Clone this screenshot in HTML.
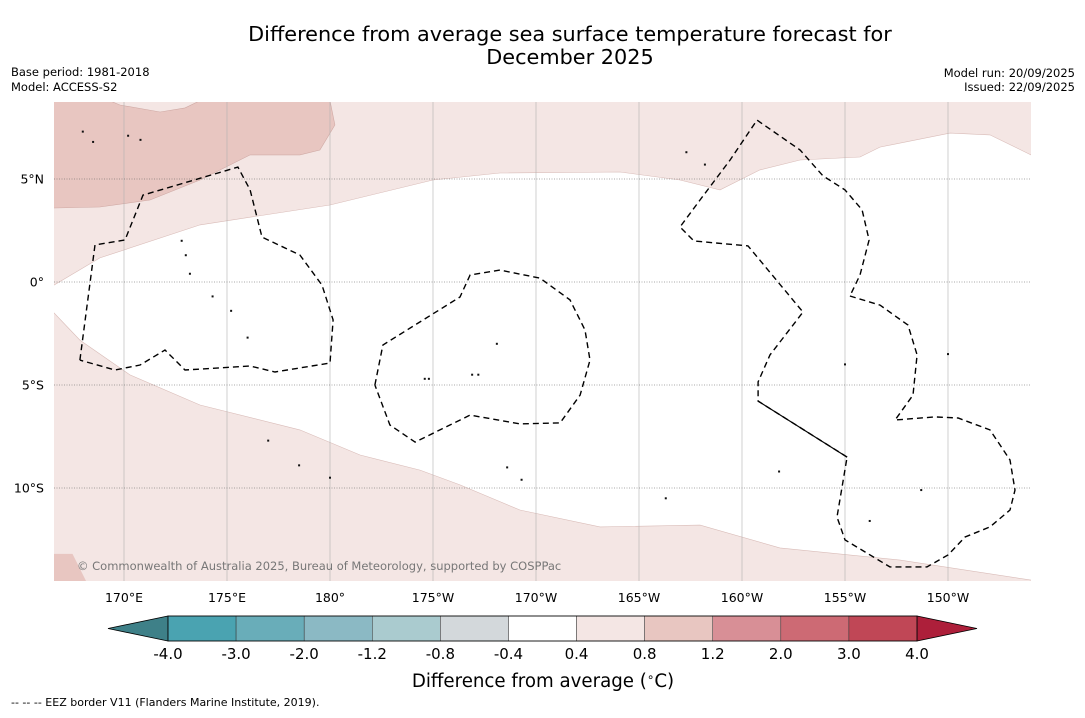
<!DOCTYPE html>
<html><head><meta charset="utf-8">
<style>
html,body{margin:0;padding:0;background:#fff;}
body{width:1085px;height:713px;overflow:hidden;font-family:"Liberation Sans","DejaVu Sans",sans-serif;}
</style></head>
<body>
<svg id="chart" width="1085" height="713" xmlns="http://www.w3.org/2000/svg" font-family="'DejaVu Sans','Liberation Sans',sans-serif">
<text x="570" y="41" font-size="20.8" text-anchor="middle">Difference from average sea surface temperature forecast for</text>
<text x="570" y="64" font-size="20.8" text-anchor="middle">December 2025</text>
<text x="11" y="76" font-size="11.5">Base period: 1981-2018</text>
<text x="11" y="91" font-size="11.5">Model: ACCESS-S2</text>
<text x="1075" y="77" font-size="11.5" text-anchor="end">Model run: 20/09/2025</text>
<text x="1075" y="91" font-size="11.5" text-anchor="end">Issued: 22/09/2025</text>
<defs><clipPath id="plotclip"><rect x="54" y="102" width="977" height="479"/></clipPath></defs>
<g id="map" clip-path="url(#plotclip)"></g>
<g id="axes"></g>
<g id="cbar"></g>
<text x="543" y="687" font-size="18.2" text-anchor="middle">Difference from average (<tspan font-size="12" dy="-6">∘</tspan><tspan dy="6">C)</tspan></text>
<text x="11" y="706" font-size="11">--  --  -- EEZ border V11 (Flanders Marine Institute, 2019).</text>
</svg>
<script>
// Data arrays (lon in degrees east 0-360, lat in degrees)
const lonTicks = [170,175,180,185,190,195,200,205,210];
const lonTickLabels = ["170°E","175°E","180°","175°W","170°W","165°W","160°W","155°W","150°W"];
const latTicks = [5,0,-5,-10];
const latTickLabels = ["5°N","0°","5°S","10°S"];
const cbarBounds = [-4.0,-3.0,-2.0,-1.2,-0.8,-0.4,0.4,0.8,1.2,2.0,3.0,4.0];
const cbarLabels = ["-4.0","-3.0","-2.0","-1.2","-0.8","-0.4","0.4","0.8","1.2","2.0","3.0","4.0"];
const cbarColors = ["#4aa3b1","#69adb9","#8bb9c4","#aacbcf","#d3d8db","#ffffff","#f4e6e4","#e8c6c1","#d88f96","#cd6a74","#c04756"];
const northBandLon = [166.6,168.83,173.69,180.0,185.0,188.25,194.08,196.99,198.93,200.87,202.82,205.73,206.7,210.1,212.04,214.03];
const northBandLat = [-0.15,1.17,2.77,3.74,4.95,5.29,5.34,4.95,4.47,5.44,5.92,6.07,6.55,7.23,7.14,6.17];
const warmPatchLon = [166.0,166.6,168.83,171.26,173.69,176.12,178.54,179.51,180.24,180.0,173.69,172.96,171.75,169.8,169.3,166.0];
const warmPatchLat = [3.59,3.59,3.64,3.98,4.95,6.17,6.17,6.41,7.62,8.8,8.8,8.45,8.25,8.59,8.8,8.8];
const southBandLon = [166.0,166.6,167.86,170.29,173.69,178.54,181.46,184.37,186.31,189.22,193.11,197.96,201.84,207.67,214.03,214.5];
const southBandLat = [-1.2,-1.5,-2.82,-4.51,-5.97,-7.18,-8.4,-9.13,-9.85,-11.07,-11.89,-11.8,-12.91,-13.5,-14.47,-14.6];
const eezALon = [167.86,168.59,170.05,170.92,175.53,176.12,176.7,178.54,179.61,180.15,180.0,177.33,176.12,172.96,171.99,170.78,169.56,167.86];
const eezALat = [-3.79,1.8,2.04,4.22,5.58,4.47,2.18,1.31,-0.15,-1.84,-3.93,-4.37,-4.08,-4.27,-3.3,-4.03,-4.27,-3.79];
const eezBLon = [182.18,182.57,186.31,186.8,188.25,190.19,191.65,192.38,192.62,192.14,191.17,189.22,186.8,184.13,182.91,182.18];
const eezBLat = [-5.0,-3.06,-0.73,0.34,0.58,0.19,-0.87,-2.33,-3.79,-5.49,-6.84,-6.89,-6.46,-7.77,-6.94,-5.0];
const eezCLon = [205.1,200.78,200.78,201.36,202.96,200.29,197.67,196.99,197.96,199.42,200.73,202.82,203.93,205.0,205.83,206.17,205.73,205.24];
const eezCLat = [-8.5,-5.78,-4.85,-3.54,-1.46,1.75,1.99,2.67,3.98,5.92,7.86,6.41,5.15,4.47,3.5,2.04,0.34,-0.68];
const eezDLon = [205.24,206.7,208.06,208.5,208.3,207.43,209.37,210.49,212.04,213.01,213.25,213.01,212.04,210.83,210.0,208.98,207.18,205.0,204.61,205.1];
const eezDLat = [-0.68,-1.12,-2.09,-3.54,-5.49,-6.7,-6.55,-6.6,-7.18,-8.64,-10.1,-11.07,-11.89,-12.38,-13.25,-13.83,-13.83,-12.52,-11.41,-8.5];
const islandLon = [168.0,168.5,170.2,170.8,172.8,173.0,173.2,174.3,175.2,176.0,177.0,178.5,180.0,184.8,187.2,188.1,188.6,189.3,196.3,198.2,201.8,205.0,206.2,208.7,210.0,197.3,184.6,186.9];
const islandLat = [7.3,6.8,7.1,6.9,2.0,1.3,0.4,-0.7,-1.4,-2.7,-7.7,-8.9,-9.5,-4.7,-4.5,-3.0,-9.0,-9.6,-10.5,5.7,-9.2,-4.0,-11.6,-10.1,-3.5,6.3,-4.7,-4.5];
const NS="http://www.w3.org/2000/svg";
const xS = lon => 124 + (lon-170)*20.6;
const yS = lat => 282 - lat*20.6;
function mk(tag, attrs, parent){const e=document.createElementNS(NS,tag);for(const k in attrs)e.setAttribute(k,attrs[k]);parent.appendChild(e);return e;}
function pts(lons,lats){return lons.map((l,i)=>xS(l).toFixed(1)+","+yS(lats[i]).toFixed(1)).join(" ");}
const map=document.getElementById('map');
let bg=mk('rect',{x:54,y:102,width:977,height:479,fill:'#ffffff'},map);


let nb=mk('polygon',{points:pts(northBandLon,northBandLat)+" "+xS(215)+","+yS(9)+" "+xS(166)+","+yS(9)+" "+xS(166)+","+yS(-0.15),fill:'#f4e6e4',stroke:'#d9bcb8','stroke-width':0.6},map);


let wp=mk('polygon',{points:pts(warmPatchLon,warmPatchLat),fill:'#e8c6c1',stroke:'#cfa9a4','stroke-width':0.6},map);


let sb=mk('polygon',{points:pts(southBandLon,southBandLat)+" "+xS(215)+","+yS(-15)+" "+xS(166)+","+yS(-15),fill:'#f4e6e4',stroke:'#d9bcb8','stroke-width':0.6},map);


let sp=mk('polygon',{points:xS(166)+","+yS(-13.2)+" "+xS(167.5)+","+yS(-13.2)+" "+xS(168.2)+","+yS(-14.6)+" "+xS(166)+","+yS(-14.6),fill:'#e8c6c1'},map);


lonTicks.forEach(l=>{let g=mk('line',{x1:xS(l),x2:xS(l),y1:102,y2:581,stroke:'#b0b0b0','stroke-width':0.6},map);

});
latTicks.forEach(l=>{let g=mk('line',{x1:54,x2:1031,y1:yS(l),y2:yS(l),stroke:'#555','stroke-width':0.6,'stroke-dasharray':'1,1.5'},map);

});
islandLon.forEach((l,i)=>{let c=mk('rect',{x:xS(l)-1,y:yS(islandLat[i])-1,width:2,height:2,fill:'#111'},map);

});
[[eezALon,eezALat,'eez-border-tuvalu'],[eezBLon,eezBLat,'eez-border-phoenix'],[eezCLon,eezCLat,'eez-border-line-islands'],[eezDLon,eezDLat,'eez-border-french-polynesia']].forEach(([lo,la,n])=>{
let p=mk('polyline',{points:pts(lo,la),fill:'none',stroke:'#000','stroke-width':1.4,'stroke-dasharray':'6,4'},map);

});
let solid=mk('line',{x1:xS(200.78),y1:yS(-5.78),x2:xS(205.1),y2:yS(-8.5),stroke:'#000','stroke-width':1.2},map);


let cp=mk('text',{x:77,y:570,'font-size':11.5,fill:'#777'},map);
cp.textContent='© Commonwealth of Australia 2025, Bureau of Meteorology, supported by COSPPac';


const axes=document.getElementById('axes');
lonTicks.forEach((l,i)=>{let t=mk('text',{x:xS(l),y:602,'font-size':12.5,'text-anchor':'middle'},axes);t.textContent=lonTickLabels[i];

});
latTicks.forEach((l,i)=>{let t=mk('text',{x:44,y:yS(l)+4.5,'font-size':12.5,'text-anchor':'end'},axes);t.textContent=latTickLabels[i];

});
const cb=document.getElementById('cbar');
const cbX0=168, cbW=749, n=cbarColors.length, cy0=616, ch=25;
const cx = i => cbX0 + i*cbW/n;
let lt=mk('polygon',{points:`108,${cy0+ch/2} ${cbX0},${cy0} ${cbX0},${cy0+ch}`,fill:'#3e8088',stroke:'#000','stroke-width':0.8},cb);


let rt=mk('polygon',{points:`977,${cy0+ch/2} ${cbX0+cbW},${cy0} ${cbX0+cbW},${cy0+ch}`,fill:'#ad1f3a',stroke:'#000','stroke-width':0.8},cb);


cbarColors.forEach((c,i)=>{let r=mk('rect',{x:cx(i),y:cy0,width:cbW/n,height:ch,fill:c,stroke:'#333','stroke-width':0.5},cb);

});
let fr=mk('rect',{x:cbX0,y:cy0,width:cbW,height:ch,fill:'none',stroke:'#000','stroke-width':0.8},cb);


cbarLabels.forEach((s,i)=>{let t=mk('text',{x:cx(i),y:659,'font-size':15,'text-anchor':'middle'},cb);t.textContent=s;

});
</script>
</body></html>
